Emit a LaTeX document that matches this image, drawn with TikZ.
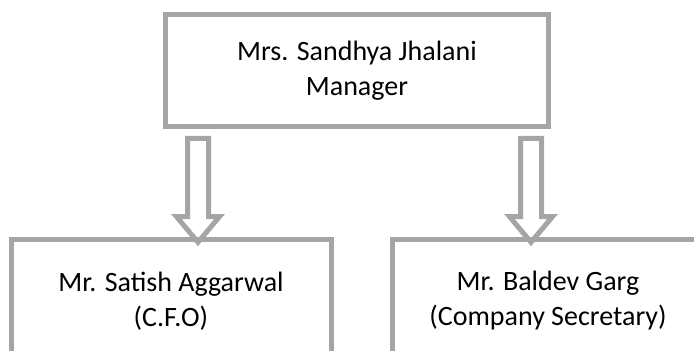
\documentclass[tikz,border=0pt]{standalone}
\usepackage{fontspec}
\setmainfont{Carlito}
\usetikzlibrary{shapes.arrows}

\definecolor{linegray}{HTML}{A5A5A5}

\tikzset{
  person/.style={draw=linegray, line width=5pt, align=center,
    font=\fontsize{28}{35}\selectfont},
  downarrow/.style={single arrow, draw=linegray, line width=5pt,
    inner sep=8pt, single arrow head extend=11pt, single arrow tip angle=80,
    minimum height=104pt, shape border rotate=270}
}

\begin{document}
\begin{tikzpicture}[x=1pt, y=1pt]
  \clip (0,0) rectangle (694,351);

  % manager
  \node[person, minimum width=383pt, minimum height=112pt] (manager) at (357,280)
    {Mrs. Sandhya Jhalani\\Manager};

  % reports
  \node[person, minimum width=320pt, minimum height=122pt] (cfo) at (171,50)
    {Mr. Satish Aggarwal\\(C.F.O)};
  \node[person, minimum width=312pt, minimum height=122pt] (secretary) at (548,50)
    {Mr. Baldev Garg\\(Company Secretary)};

  % arrows
  \foreach \name/\x in {arrowL/198, arrowR/531} {
    \node[downarrow] (\name) at (\x,167) {};
  }
\end{tikzpicture}
\end{document}
